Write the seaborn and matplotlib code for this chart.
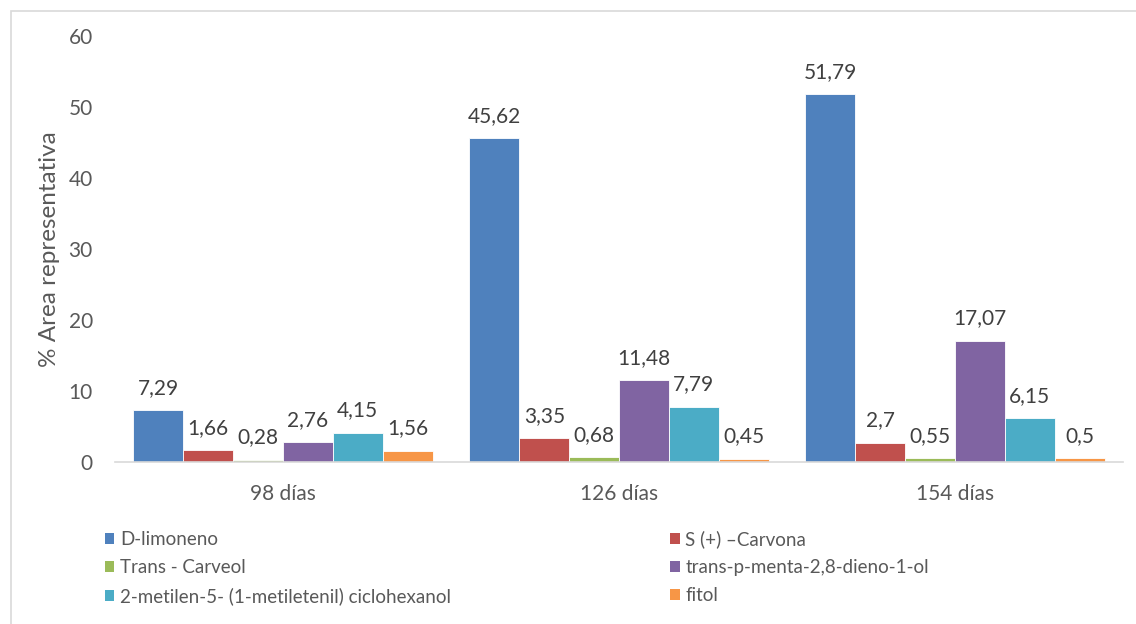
import matplotlib
matplotlib.use("Agg")
import matplotlib.pyplot as plt
import matplotlib.patches as mpatches
import seaborn as sns
import pandas as pd

# Sampling times and compounds
dias = ["98 días", "126 días", "154 días"]
compuestos = [
    "D-limoneno",
    "S (+) –Carvona",
    "Trans - Carveol",
    "trans-p-menta-2,8-dieno-1-ol",
    "2-metilen-5- (1-metiletenil) ciclohexanol",
    "fitol",
]

# % representative area for each compound, per sampling time
d_limoneno = [7.29, 45.62, 51.79]
carvona = [1.66, 3.35, 2.7]
trans_carveol = [0.28, 0.68, 0.55]
trans_p_menta = [2.76, 11.48, 17.07]
metilen_ciclohexanol = [4.15, 7.79, 6.15]
fitol = [1.56, 0.45, 0.5]

series = [d_limoneno, carvona, trans_carveol, trans_p_menta,
          metilen_ciclohexanol, fitol]

colores = ["#4F81BD", "#C0504D", "#9BBB59", "#8064A2", "#4BACC6", "#F79646"]

rows = []
for comp, vals in zip(compuestos, series):
    for dia, v in zip(dias, vals):
        rows.append({"dia": dia, "compuesto": comp, "valor": v})
df = pd.DataFrame(rows)

sns.set_theme(style="white")
plt.rcParams["font.family"] = ["Lato", "DejaVu Sans"]

W, H = 1136, 624
fig = plt.figure(figsize=(W / 100, H / 100), dpi=100)
ax = fig.add_axes([115 / W, 1 - 462 / H, 1008 / W, (462 - 36) / H])

sns.barplot(data=df, x="dia", y="valor", hue="compuesto", order=dias,
            hue_order=compuestos, palette=colores, width=0.89, gap=0,
            edgecolor="white", linewidth=0.6, saturation=1, legend=False,
            ax=ax)

txt_grey = "#595959"
lbl_grey = "#404040"

for cont, vals in zip(ax.containers, series):
    labels = [str(v).replace(".", ",") for v in vals]
    ax.bar_label(cont, labels=labels, padding=9, fontsize=15, color=lbl_grey)

ax.set_xlim(-0.5, 2.5)
ax.set_ylim(0, 60)
ax.set_yticks(range(0, 61, 10))
ax.tick_params(axis="y", labelsize=15, colors=txt_grey, length=0, pad=16)
ax.tick_params(axis="x", labelsize=15, colors=txt_grey, length=0, pad=16)
ax.set_xlabel("")
ax.set_ylabel("% Area representativa", fontsize=17.5, color=txt_grey,
              labelpad=6)

for s in ["top", "right", "left"]:
    ax.spines[s].set_visible(False)
ax.spines["bottom"].set_color("#D9D9D9")
ax.spines["bottom"].set_linewidth(1.2)

# Legend: two columns, row-wise order
order = [0, 2, 4, 1, 3, 5]
handles = [mpatches.Patch(facecolor=colores[i], edgecolor="none") for i in order]
labels = [compuestos[i] for i in order]
fig.legend(handles, labels, ncol=2, loc="upper left",
           bbox_to_anchor=(105 / W, 1 - 530 / H), frameon=False,
           fontsize=13.5, labelcolor=txt_grey, handlelength=0.5,
           handleheight=0.5, handletextpad=0.3, labelspacing=0.6,
           columnspacing=11.7, borderpad=0, borderaxespad=0)

# Chart frame
fig.patches.append(mpatches.Rectangle((11 / W, -0.05), 1.1, 1 - 11 / H + 0.05,
                                      transform=fig.transFigure, fill=False,
                                      edgecolor="#D9D9D9", linewidth=1.2))

fig.savefig("out.png", dpi=100)
